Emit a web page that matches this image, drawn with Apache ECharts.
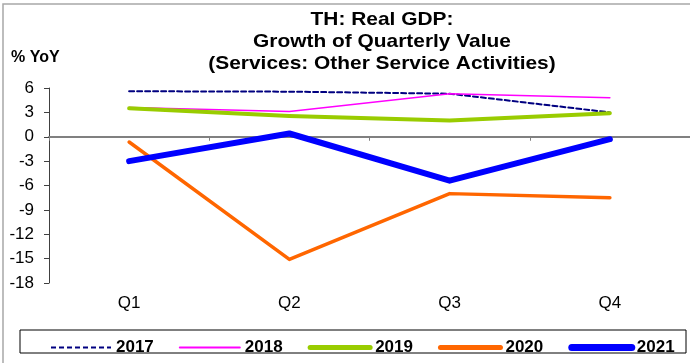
<!DOCTYPE html>
<html><head><meta charset="utf-8">
<script src="https://cdn.jsdelivr.net/npm/echarts@6/dist/echarts.min.js"></script>
<style>html,body{margin:0;padding:0;background:#fff}#c{width:690px;height:363px}</style>
</head><body><div id="c"></div>
<script>
const categories = ['Q1','Q2','Q3','Q4'];
const s2017 = [5.6, 5.55, 5.3, 3.0];
const s2018 = [3.6, 3.1, 5.3, 4.8];
const s2019 = [3.5, 2.55, 2.0, 2.9];
const s2020 = [-0.65, -15.1, -7.0, -7.5];
const s2021 = [-3.0, 0.4, -5.4, -0.3];
const yTicks = {min: -18, max: 6, interval: 3};
const titleLines = ['TH: Real GDP:', 'Growth of Quarterly Value', '(Services: Other Service Activities)'];
const FONT = '"Liberation Sans", Arial, sans-serif';

const styles = {
  '2017': {color: '#000080', width: 2, type: [5, 3]},
  '2018': {color: '#FF00FF', width: 1.5, type: 'solid'},
  '2019': {color: '#99CC00', width: 4, type: 'solid'},
  '2020': {color: '#FF6600', width: 3.5, type: 'solid'},
  '2021': {color: '#0000FF', width: 6, type: 'solid'}
};
const legendWidths = {'2017': 2, '2018': 2, '2019': 5, '2020': 5, '2021': 7};

const chart = echarts.init(document.getElementById('c'), null, {renderer: 'canvas'});
function line(name, data) {
  const s = styles[name];
  return {name, type: 'line', data, symbol: 'none', xAxisIndex: 0,
    lineStyle: {color: s.color, width: s.width, type: s.type, cap: 'round', join: 'round'},
    itemStyle: {color: s.color}, animation: false};
}
const names = ['2017','2018','2019','2020','2021'];
chart.setOption({
  animation: false,
  textStyle: {fontFamily: FONT},
  graphic: [
    {type: 'rect', shape: {x: 3, y: 4, width: 700, height: 400}, style: {fill: 'none', stroke: '#a8a8a8', lineWidth: 1.5}, silent: true},
    {type: 'text', x: 382, y: 9, scaleX: 1.1,
     style: {text: titleLines.join('\n'), textAlign: 'center', font: 'bold 19px ' + FONT, lineHeight: 22, fill: '#000'}},
    {type: 'text', x: 11, y: 50, style: {text: '% YoY', font: 'bold 16px ' + FONT, fill: '#000'}},
    {type: 'rect', shape: {x: 20, y: 330, width: 666, height: 23}, style: {fill: 'none', stroke: '#000', lineWidth: 1}, silent: true}
  ],
  legend: {
    left: 45, top: 334, itemWidth: 60, itemHeight: 14, itemGap: 25,
    itemStyle: {opacity: 0},
    textStyle: {fontFamily: FONT, fontSize: 17, fontWeight: 'bold', color: '#000'},
    data: names.map(n => ({name: n, itemStyle: {opacity: 0},
      lineStyle: {width: legendWidths[n], color: styles[n].color, type: styles[n].type, cap: n === '2017' ? 'butt' : 'round'}}))
  },
  grid: {left: 49, top: 88, width: 649, bottom: 80, containLabel: false},
  xAxis: [
    {type: 'category', data: categories, boundaryGap: true, position: 'bottom',
     axisLine: {show: false, onZero: false}, axisTick: {show: false},
     axisLabel: {fontFamily: FONT, fontSize: 17, color: '#000', margin: 12}},
    {type: 'category', data: categories, boundaryGap: true, position: 'bottom',
     axisLine: {show: true, onZero: true, lineStyle: {color: '#808080', width: 2}},
     axisTick: {show: true, length: 4, lineStyle: {color: '#808080'}},
     axisLabel: {show: false}}
  ],
  yAxis: {
    type: 'value', min: yTicks.min, max: yTicks.max, interval: yTicks.interval,
    axisLine: {show: true, lineStyle: {color: '#404040', width: 1}},
    axisTick: {show: true, length: 5, lineStyle: {color: '#404040'}},
    splitLine: {show: false},
    axisLabel: {fontFamily: FONT, fontSize: 17, color: '#000', margin: 15}
  },
  series: [
    line('2017', s2017),
    line('2018', s2018),
    line('2019', s2019),
    line('2020', s2020),
    line('2021', s2021)
  ]
});
</script></body></html>
